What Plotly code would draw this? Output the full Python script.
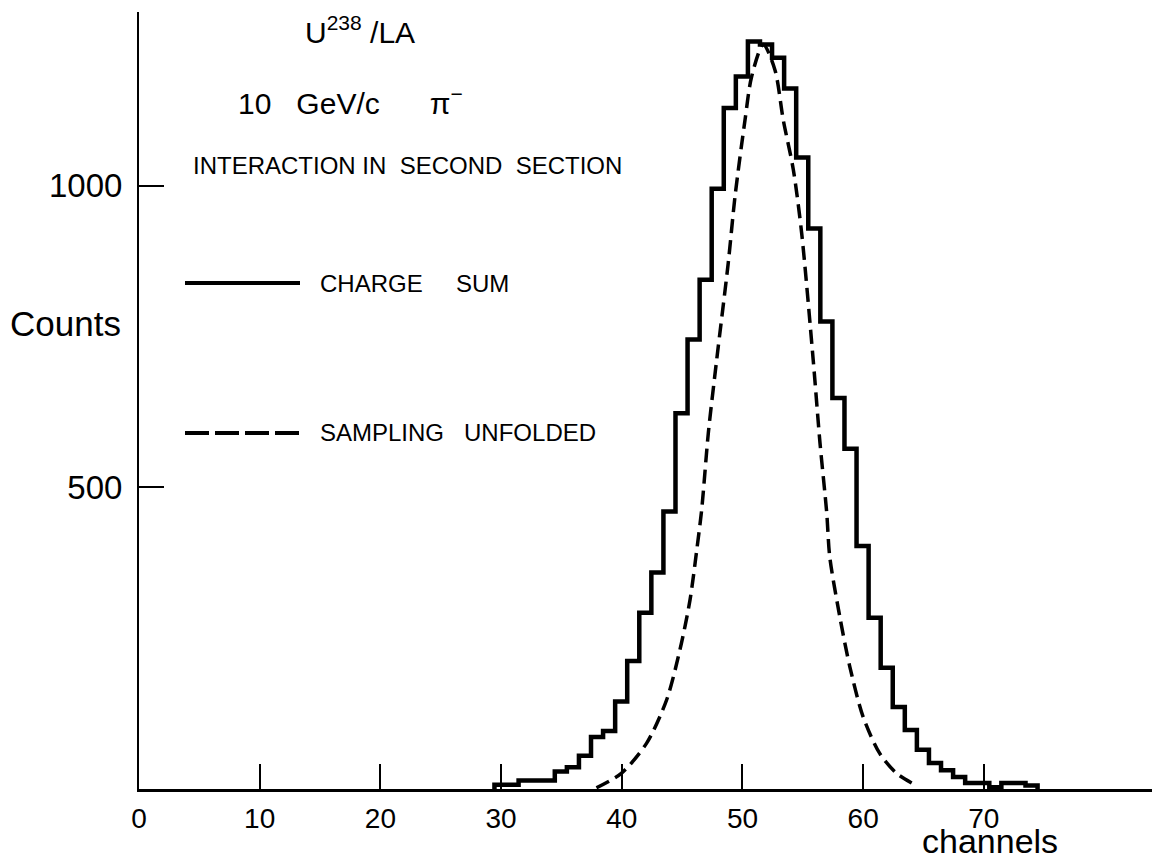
import plotly.graph_objects as go

# ---- data ----
# Charge-sum histogram: bin centre channel and counts
hist_channels = list(range(30, 75))
hist_counts = [7, 7, 14, 14, 14, 29, 36, 55, 86, 96,
               145, 212, 292, 359, 460, 623, 745, 844, 995, 1129,
               1181, 1239, 1234, 1212, 1161, 1047, 929, 775, 648, 564,
               403, 284, 201, 136, 98, 65, 43, 31, 20, 10,
               10, 3, 10, 10, 6]

# Sampling-unfolded curve (dashed)
unf_channels = [37.9, 39.96, 42.06, 43.72, 44.82, 45.65, 46.21, 46.62, 47.17, 47.86,
                48.82, 49.38, 50.21, 50.76, 51.72, 52.69, 53.38, 54.21, 54.9, 55.86,
                56.42, 56.98, 57.23, 58.06, 58.89, 59.99, 61.37, 62.77, 64.29]
unf_counts = [2, 26, 76, 148, 231, 313, 396, 463, 590, 711,
              872, 982, 1109, 1181, 1234, 1192, 1109, 1027, 922, 711,
              574, 458, 385, 286, 203, 120, 59, 26, 7]

x_ticks = [0, 10, 20, 30, 40, 50, 60, 70]
y_ticks = [500, 1000]

# ---- geometry ----
W, H = 1152, 864
L, R, T, B = 139, 0, 12, 75
XMAX = 83.93
YMAX = 1288
FONT = "Liberation Sans"
BIN_OFFSET = -0.05  # bin edges sit at channel +/- 0.5 shifted slightly


def px(xp):
    return (xp - L) / (W - L - R)


def py(yp):
    return (H - B - yp) / (H - T - B)


# step path of the histogram
edges = [c - 0.5 + BIN_OFFSET for c in hist_channels]
right_edge = hist_channels[-1] + 0.5 + BIN_OFFSET
step_x = [edges[0]] + edges + [right_edge]
step_y = [0] + hist_counts + [0]

fig = go.Figure()
fig.add_trace(go.Scatter(x=step_x, y=step_y, mode="lines",
                         line=dict(color="black", width=4.5, shape="hv"),
                         hoverinfo="skip", showlegend=False))
fig.add_trace(go.Scatter(x=unf_channels, y=unf_counts, mode="lines",
                         line=dict(color="black", width=3.5, dash="14px,7px",
                                   shape="spline", smoothing=0.8),
                         hoverinfo="skip", showlegend=False))

# legend samples
fig.add_shape(type="line", xref="paper", yref="paper",
              x0=px(185), x1=px(300), y0=py(283), y1=py(283),
              line=dict(color="black", width=4))
fig.add_shape(type="line", xref="paper", yref="paper",
              x0=px(185), x1=px(300), y0=py(433), y1=py(433),
              line=dict(color="black", width=4, dash="24px,6px"))


def note(text, xp, yp, size, anchor="left"):
    fig.add_annotation(text=text, xref="paper", yref="paper",
                       x=px(xp), y=py(yp), xanchor=anchor, yanchor="middle",
                       showarrow=False, font=dict(family=FONT, size=size, color="black"))


note("U<sup>238</sup> /LA", 303, 30, 30)
note("10   GeV/c      π<sup>−</sup>", 236, 101, 30)
note("INTERACTION IN  SECOND  SECTION", 191, 165, 24)
note("CHARGE     SUM", 318, 283, 24)
note("SAMPLING   UNFOLDED", 318, 433, 24)
note("Counts", 65, 323, 35, anchor="center")
note("channels", 990, 841, 34, anchor="center")

fig.update_layout(
    width=W, height=H,
    margin=dict(l=L, r=R, t=T, b=B, pad=0),
    paper_bgcolor="white", plot_bgcolor="white",
    font=dict(family=FONT, color="black"),
    showlegend=False,
    xaxis=dict(range=[0, XMAX], showgrid=False, zeroline=False,
               showline=True, linecolor="black", linewidth=2.5,
               ticks="inside", ticklen=25, tickwidth=2, tickcolor="black",
               tickvals=x_ticks, ticktext=[str(v) for v in x_ticks],
               tickfont=dict(family=FONT, size=28), ticklabelstandoff=3),
    yaxis=dict(range=[0, YMAX], showgrid=False, zeroline=False,
               showline=True, linecolor="black", linewidth=2,
               ticks="inside", ticklen=25, tickwidth=2, tickcolor="black",
               tickvals=y_ticks, ticktext=[str(v) for v in y_ticks],
               tickfont=dict(family=FONT, size=33), ticklabelstandoff=8),
)

fig.write_html("out.html")
